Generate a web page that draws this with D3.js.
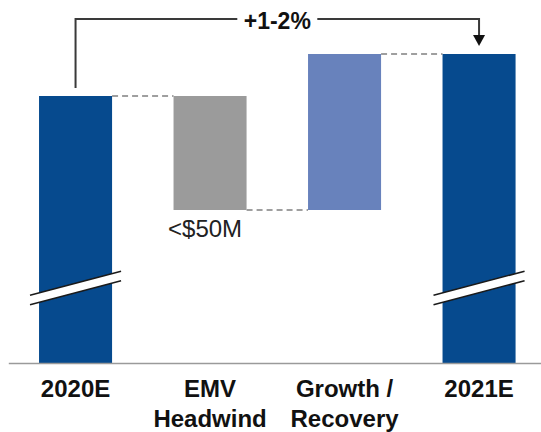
<!DOCTYPE html>
<html>
<head>
<meta charset="utf-8">
<script src="https://cdn.jsdelivr.net/npm/d3@7"></script>
<style>
  html, body { margin: 0; padding: 0; background: #fff; }
  svg { display: block; font-family: "Liberation Sans", Arial, sans-serif; }
</style>
</head>
<body>
<svg id="chart" width="541" height="432"></svg>
<script>
// ---- data ----
const categories = ["2020E", "EMV Headwind", "Growth / Recovery", "2021E"];
const categoryLines = [["2020E"], ["EMV", "Headwind"], ["Growth /", "Recovery"], ["2021E"]];
const kinds = ["total", "delta", "delta", "total"];
const values = [89, -38, 52, 103];           // display units (axis is broken)
const valueLabels = ["", "<$50M", "", ""];
const growthLabel = "+1-2%";
const breakValue = 25;                        // where the axis break is drawn
const colors = ["#064a8e", "#9b9b9b", "#6882bc", "#064a8e"];

// ---- layout ----
const svg = d3.select("#chart");
const baseY = 363;

const x = d3.scaleBand().domain(categories).range([8.3, 546.3])
  .paddingInner(0.457).paddingOuter(0.2285);
const y = d3.scaleLinear().domain([0, 121]).range([baseY, 0]);

// compute waterfall
let running = 0;
const bars = categories.map((c, i) => {
  let start, end;
  if (kinds[i] === "total") { start = 0; end = values[i]; running = values[i]; }
  else { start = running; end = running + values[i]; running = end; }
  return { cat: c, start, end, color: colors[i], kind: kinds[i], label: valueLabels[i], lines: categoryLines[i] };
});

// connectors (dashed)
const g = svg.append("g");
for (let i = 0; i < bars.length - 1; i++) {
  const lvl = bars[i].end;
  g.append("line")
    .attr("x1", x(bars[i].cat) + x.bandwidth())
    .attr("x2", x(bars[i + 1].cat))
    .attr("y1", y(lvl)).attr("y2", y(lvl))
    .attr("stroke", "#808080").attr("stroke-width", 1.6)
    .attr("stroke-dasharray", "6,4");
}

// bars
g.selectAll("rect.bar").data(bars).enter().append("rect")
  .attr("class", "bar")
  .attr("x", d => x(d.cat))
  .attr("width", x.bandwidth())
  .attr("y", d => y(Math.max(d.start, d.end)))
  .attr("height", d => Math.abs(y(d.start) - y(d.end)))
  .attr("fill", d => d.color);

// axis breaks on total bars
const bandTilt = 24, bandGap = 9.5, ext = 9;
bars.filter(d => d.kind === "total").forEach(d => {
  const x0 = x(d.cat) - ext, x1 = x(d.cat) + x.bandwidth() + ext;
  const cy = y(breakValue);
  const upL = cy + bandTilt / 2 - bandGap / 2, upR = cy - bandTilt / 2 - bandGap / 2;
  const loL = upL + bandGap, loR = upR + bandGap;
  g.append("path")
    .attr("d", `M${x0},${upL}L${x1},${upR}L${x1},${loR}L${x0},${loL}Z`)
    .attr("fill", "#fff");
  g.append("line").attr("x1", x0).attr("y1", upL).attr("x2", x1).attr("y2", upR)
    .attr("stroke", "#1a1a1a").attr("stroke-width", 1.5);
  g.append("line").attr("x1", x0).attr("y1", loL).attr("x2", x1).attr("y2", loR)
    .attr("stroke", "#1a1a1a").attr("stroke-width", 1.5);
});

// value label under EMV bar
bars.filter(d => d.label).forEach(d => {
  g.append("text")
    .attr("x", x(d.cat) + x.bandwidth() / 2 - 5)
    .attr("y", y(Math.min(d.start, d.end)) + 27)
    .attr("text-anchor", "middle")
    .attr("font-size", 24)
    .attr("fill", "#222")
    .text(d.label);
});

// x axis
const axis = svg.append("g")
  .attr("transform", `translate(0,${baseY})`)
  .call(d3.axisBottom(x).tickSize(0).tickPadding(0));
axis.select(".domain").attr("stroke", "#9a9a9a").attr("stroke-width", 1.5);
axis.selectAll(".tick text").each(function (c, i) {
  const t = d3.select(this);
  t.text(null).attr("y", 0).attr("dy", null)
    .attr("font-size", 24).attr("font-weight", "bold")
    .attr("font-family", "'Liberation Sans', Arial, sans-serif")
    .attr("fill", "#111");
  categoryLines[i].forEach((ln, k) => {
    t.append("tspan").attr("x", 0).attr("y", 33.5 + k * 30).text(ln);
  });
});

// growth bracket
const first = bars[0], last = bars[bars.length - 1];
const cx0 = x(first.cat) + x.bandwidth() / 2;
const cx1 = x(last.cat) + x.bandwidth() / 2;
const topY = y(last.end) - 35;
const startY = y(first.end) - 8;
const tipY = y(last.end) - 8;
svg.append("path")
  .attr("d", `M${cx0},${startY}V${topY}H${cx1}V${tipY - 10}`)
  .attr("fill", "none").attr("stroke", "#3a3a3a").attr("stroke-width", 2);
svg.append("path")
  .attr("d", `M${cx1 - 6},${tipY - 11}L${cx1 + 6},${tipY - 11}L${cx1},${tipY}Z`)
  .attr("fill", "#111");
const midX = (cx0 + cx1) / 2;
svg.append("rect")
  .attr("x", midX - 40).attr("y", topY - 10).attr("width", 80).attr("height", 20)
  .attr("fill", "#fff");
svg.append("text")
  .attr("x", midX).attr("y", topY + 10)
  .attr("text-anchor", "middle")
  .attr("font-size", 23).attr("font-weight", "bold").attr("fill", "#111")
  .text(growthLabel);
</script>
</body>
</html>
